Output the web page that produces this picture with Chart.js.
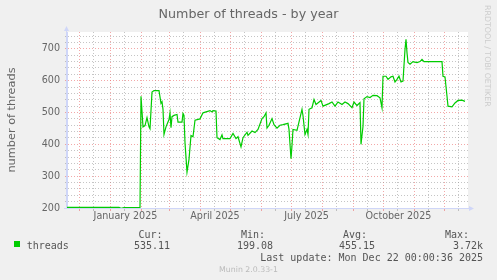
<!DOCTYPE html>
<html>
<head>
<meta charset="utf-8">
<script src="https://cdn.jsdelivr.net/npm/chart.js@4.4.1/dist/chart.umd.min.js"></script>
<style>
html, body { margin: 0; padding: 0; background: #f0f0f0; }
</style>
</head>
<body>
<canvas id="threadsChart" width="497" height="280"></canvas>
<script>
const dates = [
    '2024-11-19', '2025-01-10', '2025-01-12', '2025-01-15', '2025-01-31', '2025-02-01',
    '2025-02-03', '2025-02-05', '2025-02-07', '2025-02-09', '2025-02-10', '2025-02-12',
    '2025-02-14', '2025-02-19', '2025-02-21', '2025-02-22', '2025-02-23', '2025-02-24',
    '2025-02-26', '2025-03-01', '2025-03-02', '2025-03-03', '2025-03-04', '2025-03-06',
    '2025-03-09', '2025-03-10', '2025-03-14', '2025-03-15', '2025-03-16', '2025-03-17',
    '2025-03-19', '2025-03-21', '2025-03-23', '2025-03-25', '2025-03-27', '2025-04-01',
    '2025-04-04', '2025-04-11', '2025-04-13', '2025-04-14', '2025-04-17', '2025-04-18',
    '2025-04-21', '2025-04-23', '2025-04-24', '2025-05-01', '2025-05-04', '2025-05-07',
    '2025-05-09', '2025-05-12', '2025-05-14', '2025-05-18', '2025-05-19', '2025-05-23',
    '2025-05-26', '2025-05-29', '2025-06-02', '2025-06-04', '2025-06-06', '2025-06-07',
    '2025-06-09', '2025-06-12', '2025-06-14', '2025-06-17', '2025-06-20', '2025-06-23',
    '2025-06-28', '2025-06-29', '2025-07-01', '2025-07-02', '2025-07-03', '2025-07-07',
    '2025-07-08', '2025-07-12', '2025-07-13', '2025-07-15', '2025-07-17', '2025-07-18',
    '2025-07-19', '2025-07-22', '2025-07-24', '2025-07-26', '2025-07-31', '2025-08-02',
    '2025-08-08', '2025-08-11', '2025-08-14', '2025-08-17', '2025-08-21', '2025-08-24',
    '2025-08-27', '2025-08-31', '2025-09-02', '2025-09-05', '2025-09-08', '2025-09-09',
    '2025-09-11', '2025-09-12', '2025-09-15', '2025-09-18', '2025-09-21', '2025-09-25',
    '2025-09-28', '2025-09-30', '2025-10-01', '2025-10-04', '2025-10-06', '2025-10-09',
    '2025-10-11', '2025-10-13', '2025-10-15', '2025-10-17', '2025-10-19', '2025-10-21',
    '2025-10-23', '2025-10-24', '2025-10-25', '2025-10-26', '2025-10-28', '2025-10-31',
    '2025-11-04', '2025-11-07', '2025-11-09', '2025-11-11', '2025-11-29', '2025-11-30',
    '2025-12-02', '2025-12-04', '2025-12-05', '2025-12-09', '2025-12-12', '2025-12-15',
    '2025-12-19', '2025-12-22'
];
const threads = [
    202, 202, 199, 201, 202, 551,
    455, 459, 484, 455, 449, 564,
    569, 569, 529, 534, 510, 431,
    455, 478, 499, 452, 487, 491,
    494, 470, 470, 497, 491, 405,
    313, 353, 428, 424, 476, 480,
    499, 506, 502, 506, 505, 421,
    415, 430, 418, 418, 434, 418,
    424, 392, 421, 438, 428, 442,
    437, 447, 481, 487, 499, 451,
    460, 481, 462, 451, 460, 462,
    466, 447, 355, 397, 447, 444,
    457, 510, 490, 431, 447, 431,
    510, 515, 541, 525, 538, 520,
    528, 533, 520, 533, 525, 533,
    528, 515, 533, 522, 531, 400,
    457, 543, 550, 547, 554, 553,
    546, 515, 614, 614, 604, 612,
    614, 596, 604, 614, 596, 599,
    698, 730, 688, 657, 652, 660,
    657, 660, 667, 660, 660, 614,
    612, 551, 520, 518, 530, 538,
    539, 535
];
const yLabels = [200, 300, 400, 500, 600, 700];
const monthStarts = [
    '2024-12-01', '2025-01-01', '2025-02-01', '2025-03-01', '2025-04-01', '2025-05-01', '2025-06-01',
    '2025-07-01', '2025-08-01', '2025-09-01', '2025-10-01', '2025-11-01', '2025-12-01', '2026-01-01'
];
const xLabelMonths = { '2025-01-01': 'January 2025', '2025-04-01': 'April 2025', '2025-07-01': 'July 2025', '2025-10-01': 'October 2025' };

const BASE = Date.parse('2024-12-01');
const day = s => (Date.parse(s) - BASE) / 86400000;

const points = dates.map((d, i) => ({ x: day(d), y: threads[i] }));

// x ticks: month starts (red grid), mid-month (grey grid), month centres (labels only)
const tickKind = {};
const tickText = {};
const xTicks = [];
monthStarts.forEach((m, i) => {
    const v = day(m);
    if (i < monthStarts.length - 1) {
        xTicks.push(v); tickKind[v] = 'major';
        const mid = v + 14;
        xTicks.push(mid); tickKind[mid] = 'minor';
        if (xLabelMonths[m]) {
            const c = (v + day(monthStarts[i + 1])) / 2;
            xTicks.push(c); tickKind[c] = 'label'; tickText[c] = xLabelMonths[m];
        }
    }
});
xTicks.sort((a, b) => a - b);

const yTicks = [];
for (let v = 200; v <= 740; v += 20) yTicks.push(v);

const RED = 'rgba(235, 110, 110, 0.6)';
const GREY = 'rgba(150, 150, 150, 0.55)';
const AXIS = '#cfd6f8';

const munin = {
    id: 'munin',
    beforeDraw(chart) {
        const { ctx, chartArea: a } = chart;
        ctx.save();
        ctx.fillStyle = '#ffffff';
        ctx.fillRect(a.left, a.top, a.right - a.left, a.bottom - a.top);
        ctx.restore();
    },
    afterDraw(chart) {
        const { ctx, chartArea: a } = chart;
        ctx.save();
        // axis extensions and arrows
        ctx.strokeStyle = AXIS;
        ctx.fillStyle = AXIS;
        ctx.lineWidth = 1;
        ctx.beginPath();
        ctx.moveTo(a.left - 0.5, a.bottom);
        ctx.lineTo(a.left - 0.5, a.top - 2);
        ctx.moveTo(a.left - 3, a.bottom + 0.5);
        ctx.lineTo(a.right + 2, a.bottom + 0.5);
        ctx.stroke();
        ctx.beginPath();
        ctx.moveTo(a.left - 3, a.top - 1);
        ctx.lineTo(a.left + 2, a.top - 1);
        ctx.lineTo(a.left - 0.5, a.top - 6);
        ctx.fill();
        ctx.beginPath();
        ctx.moveTo(a.right + 1, a.bottom - 2);
        ctx.lineTo(a.right + 1, a.bottom + 3);
        ctx.lineTo(a.right + 6, a.bottom + 0.5);
        ctx.fill();

        // title
        ctx.fillStyle = '#666666';
        ctx.font = '12.7px "DejaVu Sans"';
        ctx.textAlign = 'center';
        ctx.textBaseline = 'alphabetic';
        ctx.fillText('Number of threads - by year', 248.5, 17.5);

        // vertical axis title
        ctx.save();
        ctx.translate(15, 120);
        ctx.rotate(-Math.PI / 2);
        ctx.font = '11.3px "DejaVu Sans"';
        ctx.fillText('number of threads', 0, 0);
        ctx.restore();

        // rrdtool watermark
        ctx.save();
        ctx.translate(485, 5);
        ctx.rotate(Math.PI / 2);
        ctx.textAlign = 'left';
        ctx.fillStyle = '#cccccc';
        ctx.font = '7.9px "DejaVu Sans"';
        ctx.fillText('RRDTOOL / TOBI OETIKER', 0, 0);
        ctx.restore();

        // legend
        ctx.fillStyle = '#00cc00';
        ctx.fillRect(14, 241, 6, 6);
        ctx.fillStyle = '#555555';
        ctx.font = '10px "DejaVu Sans Mono"';
        ctx.textAlign = 'right';
        ctx.fillText('Cur:', 162.5, 237.5);
        ctx.fillText('Min:', 265, 237.5);
        ctx.fillText('Avg:', 367, 237.5);
        ctx.fillText('Max:', 469, 237.5);
        ctx.fillText('535.11', 170, 249);
        ctx.fillText('199.08', 273, 249);
        ctx.fillText('455.15', 375, 249);
        ctx.fillText('3.72k', 483, 249);
        ctx.fillText('Last update: Mon Dec 22 00:00:36 2025', 483, 261.3);
        ctx.textAlign = 'left';
        ctx.fillText('threads', 26.7, 249);

        ctx.fillStyle = '#bbbbbb';
        ctx.font = '7.8px "DejaVu Sans"';
        ctx.textAlign = 'center';
        ctx.fillText('Munin 2.0.33-1', 248.5, 272);
        ctx.restore();
    }
};

const ctx = document.getElementById('threadsChart').getContext('2d');
const threadsChart = new Chart(ctx, {
    type: 'line',
    data: {
        datasets: [{
            label: 'threads',
            data: points,
            borderColor: '#00cc00',
            borderWidth: 1.2,
            pointRadius: 0,
            tension: 0,
            fill: false,
        }],
    },
    options: {
        responsive: false,
        animation: false,
        layout: { padding: { left: 0, right: 29, top: 32, bottom: 0 } },
        plugins: {
            legend: { display: false },
            title: { display: false },
            tooltip: { enabled: false },
        },
        scales: {
            x: {
                type: 'linear',
                min: -12,
                max: 389,
                afterBuildTicks: s => { s.ticks = xTicks.map(v => ({ value: v })); },
                afterFit: s => { s.height = 72; },
                ticks: {
                    autoSkip: false,
                    maxRotation: 0,
                    padding: 0,
                    color: '#666666',
                    font: { family: 'DejaVu Sans', size: 9.6 },
                    callback: v => tickText[v] || '',
                },
                grid: {
                    color: c => {
                        const k = c.tick ? tickKind[c.tick.value] : '';
                        return k === 'major' ? RED : k === 'minor' ? GREY : 'rgba(0,0,0,0)';
                    },
                    lineWidth: 1,
                    tickLength: 3,
                },
                border: { display: true, color: AXIS, width: 1, dash: [1, 2] },
            },
            y: {
                min: 200,
                max: 753,
                afterBuildTicks: s => { s.ticks = yTicks.map(v => ({ value: v })); },
                afterFit: s => { s.width = 67; },
                ticks: {
                    autoSkip: false,
                    padding: 5,
                    color: '#666666',
                    font: { family: 'DejaVu Sans', size: 9.6 },
                    callback: v => yLabels.includes(v) ? v : '',
                },
                grid: {
                    color: c => (c.tick && yLabels.includes(c.tick.value)) ? RED : GREY,
                    lineWidth: 1,
                    tickLength: 2,
                },
                border: { display: true, color: AXIS, width: 1, dash: [1, 2] },
            },
        },
    },
    plugins: [munin],
});
</script>
</body>
</html>
